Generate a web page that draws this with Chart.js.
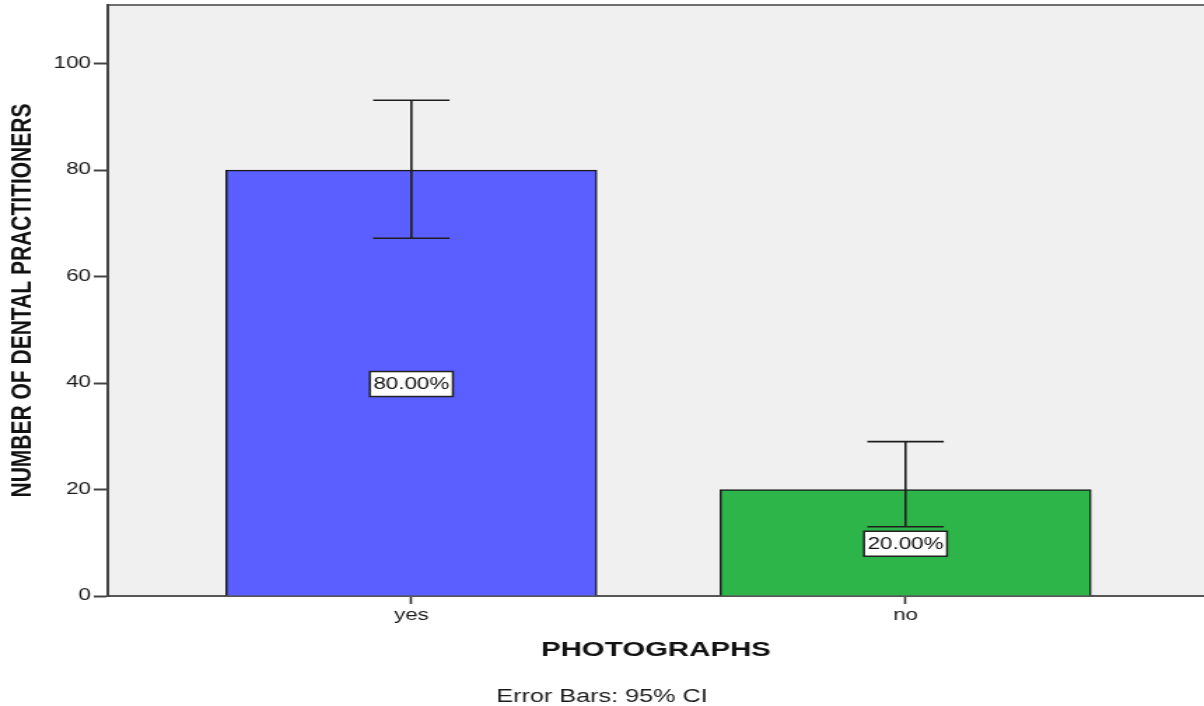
<!DOCTYPE html>
<html>
<head>
<meta charset="utf-8">
<title>Photographs</title>
<script src="https://cdn.jsdelivr.net/npm/chart.js@4.4.1/dist/chart.umd.min.js"></script>
<style>
  html, body { margin: 0; padding: 0; background: #fff; overflow: hidden; }
</style>
</head>
<body>
<!-- drawn at 860 wide and stretched to 1204 like the original SPSS export -->
<canvas id="chart" width="860" height="706" style="display:block;width:1204px;height:706px"></canvas>
<script>
const categories = ['yes', 'no'];
const percentValues = [80, 20];
const ciLower = [67.2, 13];
const ciUpper = [93.1, 29];
const yTickValues = [0, 20, 40, 60, 80, 100];
const barColors = ['rgb(91, 95, 255)', 'rgb(46, 181, 74)'];

const FONT = "'Liberation Sans', Arial, sans-serif";

const plotBackground = {
    id: 'plotBackground',
    beforeDraw(chart) {
        const { ctx, chartArea: a } = chart;
        ctx.save();
        ctx.fillStyle = '#f0f0f0';
        ctx.fillRect(a.left, a.top, a.right - a.left, a.bottom - a.top);
        ctx.strokeStyle = '#6e6e6e';
        ctx.lineWidth = 2;
        ctx.beginPath();
        ctx.moveTo(a.left, a.top);
        ctx.lineTo(a.right, a.top);
        ctx.stroke();
        ctx.restore();
    }
};

const errorBars = {
    id: 'errorBars',
    afterDatasetsDraw(chart) {
        const { ctx, scales } = chart;
        const bars = chart.getDatasetMeta(0).data;
        ctx.save();
        ctx.strokeStyle = '#1e1e1e';
        ctx.lineWidth = 1.6;
        bars.forEach((bar, i) => {
            const x = bar.x;
            const yHi = scales.y.getPixelForValue(ciUpper[i]);
            const yLo = scales.y.getPixelForValue(ciLower[i]);
            const half = bar.width * 0.103;
            ctx.beginPath();
            ctx.moveTo(x, yHi);
            ctx.lineTo(x, yLo);
            ctx.moveTo(x - half, yHi);
            ctx.lineTo(x + half, yHi);
            ctx.moveTo(x - half, yLo);
            ctx.lineTo(x + half, yLo);
            ctx.stroke();
        });
        ctx.restore();
    }
};

const valueLabels = {
    id: 'valueLabels',
    afterDraw(chart) {
        const { ctx, scales } = chart;
        const bars = chart.getDatasetMeta(0).data;
        ctx.save();
        ctx.font = '16px ' + FONT;
        ctx.textAlign = 'center';
        ctx.textBaseline = 'middle';
        bars.forEach((bar, i) => {
            const text = percentValues[i].toFixed(2) + '%';
            const y = scales.y.getPixelForValue(percentValues[i] / 2) + 1;
            const w = ctx.measureText(text).width + 5;
            const h = 25;
            ctx.fillStyle = '#fff';
            ctx.fillRect(bar.x - w / 2, y - h / 2, w, h);
            ctx.strokeStyle = '#222';
            ctx.lineWidth = 1.5;
            ctx.strokeRect(bar.x - w / 2, y - h / 2, w, h);
            ctx.fillStyle = '#111';
            ctx.fillText(text, bar.x, y + 1);
        });
        ctx.restore();
    }
};

function noEdgePadding(scale) {
    scale.paddingTop = 0;
    scale.paddingBottom = 0;
    scale.paddingLeft = 0;
    scale.paddingRight = 0;
}

new Chart(document.getElementById('chart'), {
    type: 'bar',
    data: {
        datasets: [{
            data: percentValues.map((v, i) => ({ x: i + 1, y: v })),
            backgroundColor: barColors,
            borderColor: '#1a1a1a',
            borderWidth: 1.5,
            barThickness: 265
        }]
    },
    options: {
        responsive: false,
        animation: false,
        layout: { padding: { top: 5, right: 0, bottom: 0, left: 0 } },
        plugins: {
            legend: { display: false },
            tooltip: { enabled: false },
            title: {
                display: true,
                position: 'bottom',
                text: 'Error Bars: 95% CI',
                color: '#1a1a1a',
                font: { family: FONT, size: 18, weight: 'normal', lineHeight: 1 },
                padding: { top: 0, bottom: 0 }
            }
        },
        scales: {
            x: {
                type: 'linear',
                offset: false,
                min: 0.3857,
                max: 2.604,
                afterFit(scale) {
                    scale.height = 92;
                    noEdgePadding(scale);
                },
                afterBuildTicks(scale) {
                    scale.ticks = categories.map((c, i) => ({ value: i + 1 }));
                },
                ticks: {
                    color: '#1a1a1a',
                    padding: 2,
                    maxRotation: 0,
                    autoSkip: false,
                    font: { family: FONT, size: 16 },
                    callback: (value) => categories[value - 1]
                },
                grid: {
                    offset: false,
                    drawOnChartArea: false,
                    drawTicks: true,
                    tickLength: 8,
                    tickColor: '#333',
                    tickWidth: 1.6
                },
                border: { color: '#555', width: 2 },
                title: {
                    display: true,
                    text: 'PHOTOGRAPHS',
                    color: '#111',
                    font: { family: FONT, size: 21, weight: 'bold' },
                    padding: { top: 0, bottom: 25 }
                }
            },
            y: {
                min: 0,
                max: 111,
                afterFit(scale) {
                    scale.width = 77;
                    noEdgePadding(scale);
                },
                afterBuildTicks(scale) {
                    scale.ticks = yTickValues.map(v => ({ value: v }));
                },
                ticks: {
                    color: '#1a1a1a',
                    padding: 2,
                    font: { family: FONT, size: 16 }
                },
                grid: {
                    drawOnChartArea: false,
                    drawTicks: true,
                    tickLength: 10,
                    tickColor: '#444',
                    tickWidth: 2
                },
                border: { color: '#444', width: 2 },
                title: {
                    display: true,
                    text: 'NUMBER OF DENTAL PRACTITIONERS',
                    color: '#111',
                    font: { family: FONT, size: 21, weight: 'bold' },
                    padding: { top: 4, bottom: 0 }
                }
            }
        }
    },
    plugins: [plotBackground, errorBars, valueLabels]
});
</script>
</body>
</html>
